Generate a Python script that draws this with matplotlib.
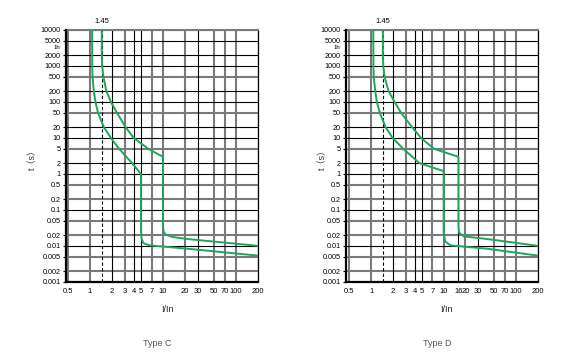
import matplotlib
matplotlib.use('Agg')
import matplotlib.pyplot as plt
from matplotlib.ticker import FixedLocator, FixedFormatter, NullLocator

# ---------------- data ----------------
x_ticks_c = [0.5, 1, 2, 3, 4, 5, 7, 10, 20, 30, 50, 70, 100, 200]
x_ticks_d = [0.5, 1, 2, 3, 4, 5, 7, 10, 16, 20, 30, 50, 70, 100, 200]
y_ticks = [0.001, 0.002, 0.005, 0.01, 0.02, 0.05, 0.1, 0.2, 0.5, 1, 2, 5,
           10, 20, 50, 100, 200, 500, 1000, 2000, 5000, 10000]
y_tick_labels = ['0.001', '0.002', '0.005', '0.01', '0.02', '0.05', '0.1', '0.2',
                 '0.5', '1', '2', '5', '10', '20', '50', '100', '200', '500',
                 '1000', '2000', '5000', '10000']
hour_value = 3600
hour_label = '1h'
marker_current = 1.45

# Type C
c_upper_x = [1.45, 1.45, 1.47, 1.53, 1.68, 1.94, 2.34, 3.08, 3.98, 6.3, 10,
             10, 10.3, 11, 13.5, 21.8, 200]
c_upper_t = [10000, 2000, 1000, 500, 200, 100, 50, 20, 10, 5, 3,
             0.032, 0.024, 0.0205, 0.0178, 0.0156, 0.0101]
c_lower_x = [1.07, 1.075, 1.085, 1.13, 1.19, 1.29, 1.55, 1.94, 2.51, 3.78, 5,
             5, 5.1, 5.4, 6.6, 21.8, 200]
c_lower_t = [10000, 1000, 500, 200, 100, 50, 20, 10, 5, 2, 1,
             0.025, 0.016, 0.012, 0.0104, 0.0084, 0.0054]

# Type D
d_upper_x = [1.45, 1.45, 1.47, 1.53, 1.74, 2.11, 2.59, 3.67, 4.88, 7.36, 16,
             16, 16.4, 19, 40, 200]
d_upper_t = [10000, 2000, 1000, 500, 200, 100, 50, 20, 10, 5, 3,
             0.035, 0.023, 0.0185, 0.0156, 0.0101]
d_lower_x = [1.07, 1.075, 1.085, 1.14, 1.2, 1.32, 1.58, 1.98, 2.78, 4.64, 10,
             10, 10.5, 12.4, 40, 200]
d_lower_t = [10000, 1000, 500, 200, 100, 50, 20, 10, 5, 2, 1.2,
             0.023, 0.0134, 0.0104, 0.0084, 0.0054]

# ---------------- style ----------------
GREEN = '#1fa55a'
GRAY = '#7a7a7a'
gray_x = {0.5, 1, 3, 7, 10, 20, 50, 70, 100}
gray_y = {10000, 500, 50, 5, 0.5, 0.2, 0.05, 0.02, 0.005, 0.002}
FONT = ['Liberation Sans', 'Noto Sans CJK SC', 'DejaVu Sans']
plt.rcParams['font.family'] = FONT

fig = plt.figure(figsize=(5.74, 3.61), dpi=100)
W, H = 574, 361


def panel(rect, xlim_left, xticks, curves, title, ylab_x, title_x, xlab_x):
    ax = fig.add_axes(rect)
    ax.set_xscale('log')
    ax.set_yscale('log')
    ax.set_xlim(xlim_left, 200)
    ax.set_ylim(0.001, 10000)
    # grid
    for v in xticks:
        if v in gray_x:
            ax.axvline(v, color=GRAY, lw=1.5, zorder=1)
        else:
            ax.axvline(v, color='black', lw=0.8, zorder=1.2)
    for v in y_ticks:
        if v in gray_y:
            ax.axhline(v, color=GRAY, lw=1.5, zorder=1)
        else:
            ax.axhline(v, color='black', lw=0.8, zorder=1.2)
    ax.axvline(marker_current, color='black', lw=0.8, ls=(0, (3, 2)), zorder=1.5)
    for xs, ts in curves:
        ax.plot(xs, ts, color=GREEN, lw=1.4, zorder=3, solid_joinstyle='round')
    ax.xaxis.set_major_locator(FixedLocator(xticks))
    ax.xaxis.set_major_formatter(FixedFormatter([('%g' % v) for v in xticks]))
    ax.xaxis.set_minor_locator(NullLocator())
    ax.yaxis.set_major_locator(FixedLocator(y_ticks))
    ax.yaxis.set_major_formatter(FixedFormatter(y_tick_labels))
    ax.yaxis.set_minor_locator(NullLocator())
    ax.tick_params(axis='x', length=0, pad=4.5, labelsize=5.5)
    ax.tick_params(axis='y', length=2, width=0.8, pad=2, labelsize=5.2)
    # "1h" marker label, small, squeezed between 5000 and 2000
    ax.annotate(hour_label, xy=(0, hour_value),
                xycoords=('axes fraction', 'data'),
                xytext=(-4, -1.2), textcoords='offset points',
                ha='right', va='center', fontsize=4.4, annotation_clip=False)
    for s in ['left', 'bottom']:
        ax.spines[s].set_linewidth(1.6)
        ax.spines[s].set_zorder(4)
    ax.spines['top'].set_color(GRAY)
    ax.spines['top'].set_linewidth(1.5)
    ax.spines['right'].set_linewidth(0.9)
    ax.annotate('1.45', xy=(marker_current, 10000), xytext=(0, 6),
                textcoords='offset points', ha='center', va='center',
                fontsize=5.5, annotation_clip=False)
    fig.text(ylab_x / W, 1 - 157 / H, 't（s）', rotation=90, ha='center',
             va='center', fontsize=6.5, color='#333333')
    fig.text(xlab_x / W, 1 - 310 / H, 'I/In', ha='center', va='center',
             fontsize=6.5, color='#222222')
    fig.text(title_x / W, 1 - 343 / H, title, ha='center', va='center',
             fontsize=6.5, color='#555555')
    return ax


panel([66 / W, 1 - 282 / H, (258 - 66) / W, (282 - 30) / H], 0.47, x_ticks_c,
      [(c_upper_x, c_upper_t), (c_lower_x, c_lower_t)], 'Type C', 33, 157, 167)
panel([346 / W, 1 - 282 / H, (538 - 346) / W, (282 - 30) / H], 0.45, x_ticks_d,
      [(d_upper_x, d_upper_t), (d_lower_x, d_lower_t)], 'Type D', 323, 437, 446)

fig.savefig('out.png', dpi=100)
